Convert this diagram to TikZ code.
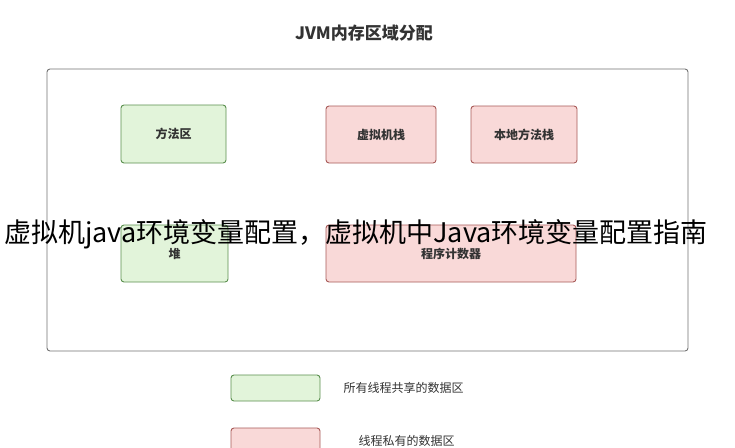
\documentclass[tikz,border=0pt]{standalone}
\usepackage{fontspec}
\newfontfamily\cjk{Noto Sans CJK SC}
\definecolor{gfill}{HTML}{E2F4DA}
\definecolor{gdraw}{HTML}{5A8F4E}
\definecolor{pfill}{HTML}{F9D9D8}
\definecolor{pdraw}{HTML}{A85A58}
\tikzset{
  gbox/.style={draw=gdraw,fill=gfill,rounded corners=3pt,line width=0.9pt,font=\cjk\bfseries\fontsize{12}{14}\selectfont,text=black!80},
  pbox/.style={draw=pdraw,fill=pfill,rounded corners=3pt,line width=0.9pt,font=\cjk\bfseries\fontsize{12}{14}\selectfont,text=black!80},
  lbl/.style={font=\cjk\fontsize{12}{14}\selectfont,text=black!80,anchor=west}
}
\begin{document}
\begin{tikzpicture}[x=1pt,y=-1pt]
\useasboundingbox (0,0) rectangle (735,447);
\clip (0,0) rectangle (735,447);
\fill[white] (0,0) rectangle (735,447);
\node[font=\cjk\bfseries\fontsize{17}{19}\selectfont,text=black!80] (title) at (364,33) {JVM内存区域分配};
\draw[black!55,line width=0.9pt,rounded corners=3pt] (47,69) rectangle (688,351);
\node[gbox] (fa) at (173.5,134) [minimum width=105pt,minimum height=58pt] {方法区};
\node[pbox] (vs) at (381,134.5) [minimum width=110pt,minimum height=57pt] {虚拟机栈};
\node[pbox] (ns) at (524,134.5) [minimum width=106pt,minimum height=57pt] {本地方法栈};
\node[gbox] (heap) at (174.5,253.5) [minimum width=107pt,minimum height=57pt] {堆};
\node[pbox] (pc) at (451,253.5) [minimum width=250pt,minimum height=57pt] {程序计数器};
\node[gbox,minimum width=89pt,minimum height=26pt] (lg) at (275.5,388) {};
\node[lbl] (lgt) at (340,388) {所有线程共享的数据区};
\node[pbox,minimum width=89pt,minimum height=26pt] (lp) at (275.5,441) {};
\node[lbl] (lpt) at (355,441) {线程私有的数据区};
\node[font=\cjk\fontsize{27}{30}\selectfont,text=black] (ov) at (356,234) {虚拟机java环境变量配置，虚拟机中Java环境变量配置指南};
\end{tikzpicture}
\end{document}
